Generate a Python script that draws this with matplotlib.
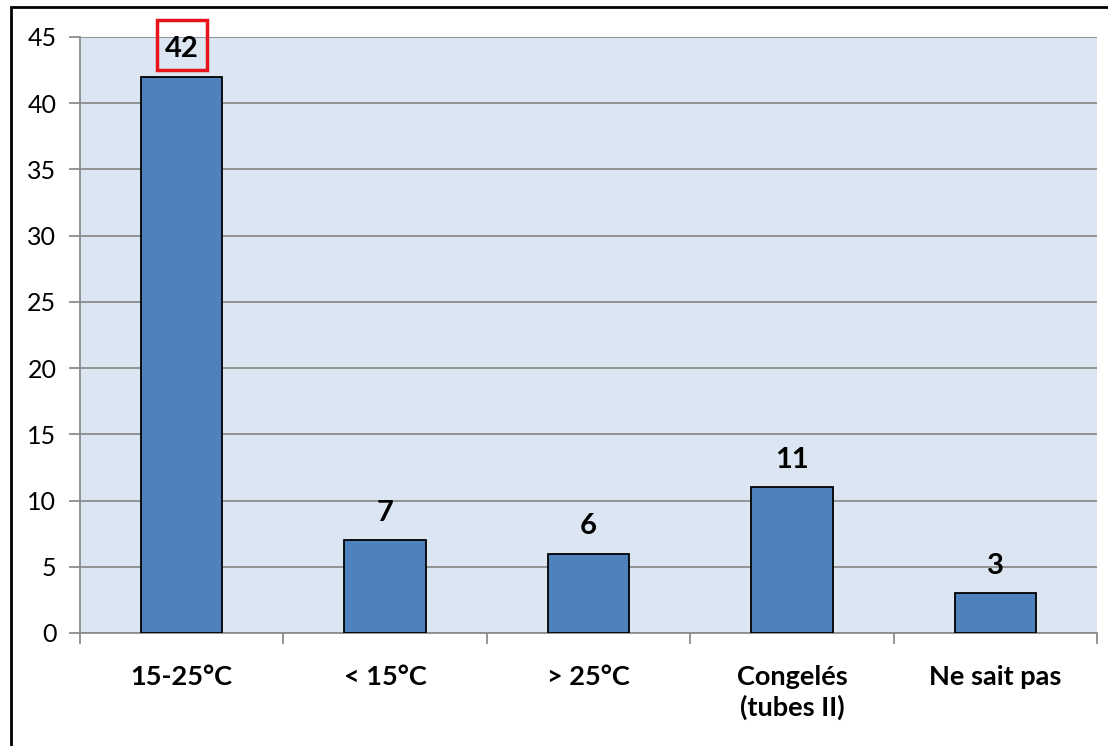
import matplotlib.pyplot as plt
from matplotlib.patches import Rectangle

categories = ['15-25°C', '< 15°C', '> 25°C', 'Congelés\n(tubes II)', 'Ne sait pas']
values = [42, 7, 6, 11, 3]
yticks = [0, 5, 10, 15, 20, 25, 30, 35, 40, 45]

plt.rcParams['font.family'] = ['Lato', 'DejaVu Sans']

fig = plt.figure(figsize=(11.08, 7.46), dpi=100)
ax = fig.add_axes([80 / 1108, 1 - 633 / 746, (1097 - 80) / 1108, (633 - 37) / 746])

ax.set_facecolor('#DCE6F2')
x = list(range(len(categories)))
bars = ax.bar(x, values, width=0.4, color='#4F81BD', edgecolor='black', linewidth=1.3, zorder=3)

ax.set_xlim(-0.5, len(categories) - 0.5)
ax.set_ylim(0, 45)
ax.set_yticks(yticks)
ax.yaxis.grid(True, color='#8C8C8C', linewidth=1.3, zorder=1)
ax.tick_params(axis='y', labelsize=18, length=8, color='#8C8C8C', width=1.3, pad=9)

# x ticks sit between categories, labels at the centres
ax.set_xticks([i - 0.5 for i in range(len(categories) + 1)])
ax.set_xticklabels([])
ax.set_xticks(x, minor=True)
ax.set_xticklabels(categories, minor=True, fontsize=19.5, fontweight='bold', linespacing=1.25, va='top')
ax.tick_params(axis='x', which='major', length=8, color='#8C8C8C', width=1.3)
ax.tick_params(axis='x', which='minor', length=0, pad=23)

for side in ['top', 'right']:
    ax.spines[side].set_visible(False)
for side in ['left', 'bottom']:
    ax.spines[side].set_color('#8C8C8C')
    ax.spines[side].set_linewidth(1.3)

for b, v in zip(bars, values):
    ax.text(b.get_x() + b.get_width() / 2, v + 1.1, str(v), ha='center', va='bottom',
            fontsize=21, fontweight='bold', zorder=4)

# highlight box around the largest value
fig.patches.append(Rectangle((157 / 1108, 1 - 70 / 746), 50 / 1108, 50 / 746,
                             transform=fig.transFigure, fill=False, edgecolor='#E8141B', linewidth=2.5))

# outer frame
fig.patches.append(Rectangle((11 / 1108, -0.01), 1.02, 1 - 7 / 746 + 0.01,
                             transform=fig.transFigure, fill=False, edgecolor='black', linewidth=2))

fig.savefig('out.png', dpi=100)
